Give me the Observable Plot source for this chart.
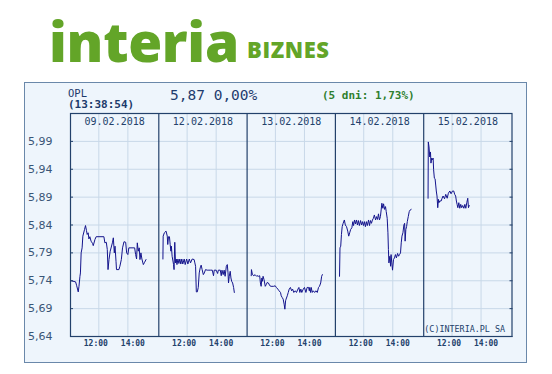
<!DOCTYPE html>
<html><head><meta charset="utf-8">
<script src="https://cdn.jsdelivr.net/npm/d3@7"></script>
<script src="https://cdn.jsdelivr.net/npm/@observablehq/plot@0.6"></script>
<style>
html,body{margin:0;padding:0;background:#fff;}
#page{position:relative;width:552px;height:374px;overflow:hidden;background:#fff;}
#panel{position:absolute;left:24px;top:82px;width:503px;height:281px;box-sizing:border-box;border:1px solid #6a88aa;background:#eef5fc;}
.t{position:absolute;white-space:nowrap;line-height:1;margin:0;}
#logo1{left:49px;top:3px;font:800 55px "Open Sans";color:#63a528;letter-spacing:-0.3px;}
#logo2{left:247px;top:33.5px;font:800 22px "Open Sans";color:#63a528;letter-spacing:0.6px;}
#sym{left:68px;top:87px;font:10.5px "DejaVu Sans Mono";color:#1c3a6b;}
#time{left:68px;top:98px;font:bold 11px "DejaVu Sans Mono";color:#1c3a6b;}
#price{left:170px;top:87px;font:14.5px "DejaVu Sans Mono";color:#1f3c6e;}
#week{left:322px;top:89.2px;font:bold 11px "DejaVu Sans Mono";color:#2f7f2f;}
#chart{position:absolute;left:0;top:0;}
</style></head><body>
<div id="page">
  <div class="t" id="logo1">interia</div>
  <div class="t" id="logo2">BIZNES</div>
  <div id="panel"></div>
  <div class="t" id="sym">OPL</div>
  <div class="t" id="time">(13:38:54)</div>
  <div class="t" id="price">5,87 0,00%</div>
  <div class="t" id="week">(5 dni: 1,73%)</div>
  <div id="chart"></div>
</div>
<script>
const days = ["09.02.2018", "12.02.2018", "13.02.2018", "14.02.2018", "15.02.2018"];
const yTicks = [5.64, 5.69, 5.74, 5.79, 5.84, 5.89, 5.94, 5.99];
const tickHours = [12, 14];
const tickLabels = ["12:00", "14:00"];
const copyright = "(C)INTERIA.PL SA";

const session0902 = [["10:06",5.740],["10:24",5.738],["10:28",5.732],["10:35",5.720],["10:38",5.730],["10:42",5.748],["10:44",5.754],["10:47",5.790],["10:51",5.799],["10:54",5.820],["11:01",5.832],["11:05",5.839],["11:09",5.830],["11:12",5.823],["11:16",5.826],["11:19",5.815],["11:23",5.819],["11:28",5.811],["11:34",5.807],["11:37",5.803],["11:44",5.814],["11:49",5.819],["12:21",5.819],["12:25",5.808],["12:31",5.809],["12:35",5.796],["12:38",5.760],["12:42",5.778],["12:47",5.793],["12:56",5.808],["13:00",5.817],["13:04",5.790],["13:07",5.802],["13:11",5.775],["13:13",5.760],["13:23",5.760],["13:27",5.766],["13:33",5.778],["13:38",5.799],["13:44",5.810],["13:51",5.809],["13:55",5.790],["14:00",5.787],["14:04",5.799],["14:28",5.799],["14:32",5.787],["14:36",5.779],["14:39",5.808],["14:43",5.793],["14:47",5.799],["14:50",5.778],["14:54",5.790],["14:58",5.779],["15:04",5.769],["15:09",5.773],["15:15",5.778]];

const session1202 = [["10:20",5.779],["10:21",5.820],["10:26",5.826],["10:33",5.829],["10:38",5.820],["10:40",5.805],["10:43",5.819],["10:47",5.819],["10:50",5.805],["10:53",5.793],["10:55",5.802],["10:58",5.784],["11:04",5.769],["11:06",5.760],["11:09",5.809],["11:12",5.772],["11:15",5.779],["11:18",5.769],["11:22",5.779],["11:26",5.771],["11:30",5.779],["11:34",5.770],["11:38",5.779],["11:42",5.770],["11:48",5.779],["11:52",5.769],["11:58",5.779],["12:03",5.770],["12:09",5.779],["12:14",5.772],["12:21",5.779],["12:29",5.778],["12:32",5.772],["12:35",5.766],["12:38",5.720],["12:42",5.720],["12:46",5.728],["12:50",5.754],["12:54",5.763],["12:58",5.768],["13:02",5.760],["13:07",5.751],["13:11",5.754],["13:16",5.760],["13:23",5.759],["13:30",5.759],["13:37",5.759],["13:44",5.759],["13:49",5.749],["13:52",5.759],["14:00",5.759],["14:06",5.753],["14:09",5.759],["14:17",5.759],["14:21",5.749],["14:24",5.759],["14:29",5.751],["14:33",5.759],["14:37",5.748],["14:42",5.766],["14:46",5.769],["14:49",5.754],["14:51",5.736],["14:54",5.748],["14:58",5.757],["15:01",5.745],["15:04",5.739],["15:08",5.736],["15:12",5.728],["15:15",5.719]];

const session1302 = [["10:20",5.749],["10:21",5.760],["10:25",5.751],["10:31",5.749],["10:36",5.751],["10:42",5.748],["10:44",5.749],["10:50",5.748],["10:55",5.749],["10:58",5.736],["11:01",5.730],["11:04",5.745],["11:06",5.739],["11:09",5.748],["11:13",5.742],["11:18",5.730],["11:22",5.733],["11:26",5.737],["11:31",5.736],["11:37",5.731],["11:42",5.730],["11:53",5.730],["11:59",5.731],["12:04",5.728],["12:10",5.725],["12:15",5.722],["12:21",5.719],["12:24",5.713],["12:28",5.710],["12:32",5.707],["12:36",5.698],["12:39",5.689],["12:42",5.704],["12:44",5.707],["12:49",5.713],["12:53",5.719],["12:57",5.725],["13:02",5.728],["13:07",5.722],["13:11",5.725],["13:16",5.719],["13:22",5.722],["13:27",5.719],["13:33",5.725],["13:37",5.728],["13:41",5.719],["13:45",5.725],["13:49",5.719],["13:55",5.725],["14:00",5.728],["14:06",5.719],["14:11",5.728],["14:17",5.728],["14:20",5.722],["14:22",5.728],["14:25",5.719],["14:28",5.728],["14:32",5.719],["14:36",5.722],["14:42",5.719],["14:47",5.722],["14:53",5.719],["14:58",5.728],["15:02",5.730],["15:07",5.736],["15:11",5.748],["15:14",5.751]];

const session1402 = [["10:20",5.748],["10:22",5.799],["10:25",5.802],["10:28",5.823],["10:31",5.837],["10:35",5.843],["10:40",5.849],["10:44",5.840],["10:49",5.837],["10:54",5.829],["10:58",5.820],["11:02",5.826],["11:06",5.832],["11:11",5.835],["11:15",5.846],["11:18",5.839],["11:22",5.849],["11:26",5.842],["11:30",5.849],["11:34",5.840],["11:38",5.848],["11:42",5.839],["11:47",5.848],["11:51",5.840],["11:55",5.846],["11:59",5.839],["12:03",5.846],["12:07",5.837],["12:11",5.846],["12:15",5.839],["12:20",5.849],["12:24",5.839],["12:28",5.848],["12:32",5.843],["12:36",5.849],["12:40",5.852],["12:44",5.858],["12:49",5.849],["12:53",5.855],["12:57",5.850],["13:01",5.860],["13:05",5.849],["13:09",5.855],["13:12",5.867],["13:15",5.879],["13:19",5.870],["13:22",5.878],["13:26",5.868],["13:30",5.873],["13:33",5.864],["13:37",5.852],["13:40",5.826],["13:42",5.796],["13:44",5.772],["13:48",5.784],["13:51",5.766],["13:53",5.787],["13:56",5.772],["13:59",5.759],["14:03",5.778],["14:07",5.781],["14:11",5.787],["14:15",5.781],["14:20",5.789],["14:24",5.784],["14:28",5.787],["14:32",5.790],["14:35",5.808],["14:38",5.820],["14:42",5.826],["14:46",5.840],["14:49",5.843],["14:51",5.811],["14:54",5.832],["14:57",5.837],["15:00",5.846],["15:04",5.855],["15:08",5.864],["15:12",5.867],["15:16",5.868]];

const session1502 = [["10:21",5.888],["10:22",5.989],["10:25",5.980],["10:28",5.962],["10:31",5.971],["10:33",5.951],["10:36",5.960],["10:39",5.957],["10:42",5.960],["10:44",5.939],["10:47",5.924],["10:50",5.923],["10:53",5.910],["10:55",5.901],["10:58",5.892],["11:01",5.871],["11:04",5.886],["11:06",5.880],["11:09",5.883],["11:15",5.883],["11:19",5.888],["11:23",5.892],["11:29",5.887],["11:34",5.895],["11:40",5.888],["11:45",5.897],["11:51",5.901],["11:56",5.896],["12:02",5.901],["12:07",5.901],["12:11",5.895],["12:15",5.892],["12:18",5.883],["12:21",5.877],["12:24",5.871],["12:28",5.880],["12:32",5.870],["12:36",5.877],["12:40",5.871],["12:44",5.875],["12:49",5.870],["12:53",5.877],["12:57",5.870],["13:01",5.880],["13:05",5.888],["13:08",5.871],["13:11",5.875]];

const sessions = [session0902, session1202, session1302, session1402, session1502];

// session layout (hours shown per day panel)
const SESSION_START = 10.05;
const SESSION_LEN = 6.08;
const pos = (dayIndex, hours) => dayIndex * SESSION_LEN + hours - SESSION_START;
const parseHM = (s) => { const [h, m] = s.split(":").map(Number); return h + m / 60; };

const rows = sessions.flatMap((s, i) => s.map(([t, p]) => ({day: days[i], x: pos(i, parseHM(t)), price: p})));
const dayBounds = days.slice(1).map((d, i) => (i + 1) * SESSION_LEN);
const gridX = days.flatMap((d, i) => tickHours.map(h => pos(i, h)));
const ticksAt = (k) => days.map((d, i) => pos(i, tickHours[k]));

const NAVY = "#23416b", GRID = "#c8d8e8", LABEL = "#3a5577", LINE = "#14148c";
const mono = "DejaVu Sans Mono";

const chart = Plot.plot({
  width: 552,
  height: 374,
  marginLeft: 70,
  marginRight: 40.5,
  marginTop: 113,
  marginBottom: 38,
  style: {background: "transparent", overflow: "visible"},
  x: {domain: [0, days.length * SESSION_LEN], axis: null},
  y: {domain: [5.64, 6.04], axis: null},
  marks: [
    Plot.ruleY(yTicks, {stroke: GRID, strokeWidth: 1}),
    Plot.ruleX(gridX, {stroke: GRID, strokeWidth: 1}),
    Plot.text(days, {x: (d, i) => pos(i, SESSION_START + SESSION_LEN / 2), frameAnchor: "top", dy: 8, lineAnchor: "middle", fontFamily: mono, fontSize: 10, fill: NAVY, text: d => d}),
    Plot.text([copyright], {frameAnchor: "bottom-right", dx: -7, dy: -7.5, lineAnchor: "middle", textAnchor: "end", fontFamily: mono, fontSize: 8.4, fill: NAVY, text: d => d}),
    Plot.line(rows, {x: "x", y: "price", z: "day", stroke: LINE, strokeWidth: 1}),
    Plot.ruleX(dayBounds, {stroke: NAVY, strokeWidth: 1.2}),
    Plot.frame({stroke: NAVY, strokeWidth: 1.2}),
    Plot.axisY({ticks: yTicks, anchor: "left", label: null, tickSize: 0, tickPadding: 18, tickFormat: d => d.toFixed(2).replace(".", ","), fontSize: 11, fontFamily: "DejaVu Sans", fill: LABEL}),
    Plot.axisY({ticks: yTicks, anchor: "left", label: null, tickSize: -3, text: null, stroke: NAVY}),
    Plot.axisY({ticks: yTicks, anchor: "right", label: null, tickSize: -3, text: null, stroke: NAVY}),
    Plot.axisX({ticks: ticksAt(0), anchor: "bottom", label: null, tickSize: 0, tickPadding: 4, dx: -3, tickFormat: () => tickLabels[0], fontSize: 8, fontWeight: "bold", fontFamily: mono, fill: NAVY}),
    Plot.axisX({ticks: ticksAt(1), anchor: "bottom", label: null, tickSize: 0, tickPadding: 4, dx: 5, tickFormat: () => tickLabels[1], fontSize: 8, fontWeight: "bold", fontFamily: mono, fill: NAVY})
  ]
});
document.getElementById("chart").appendChild(chart);
</script>
</body></html>
